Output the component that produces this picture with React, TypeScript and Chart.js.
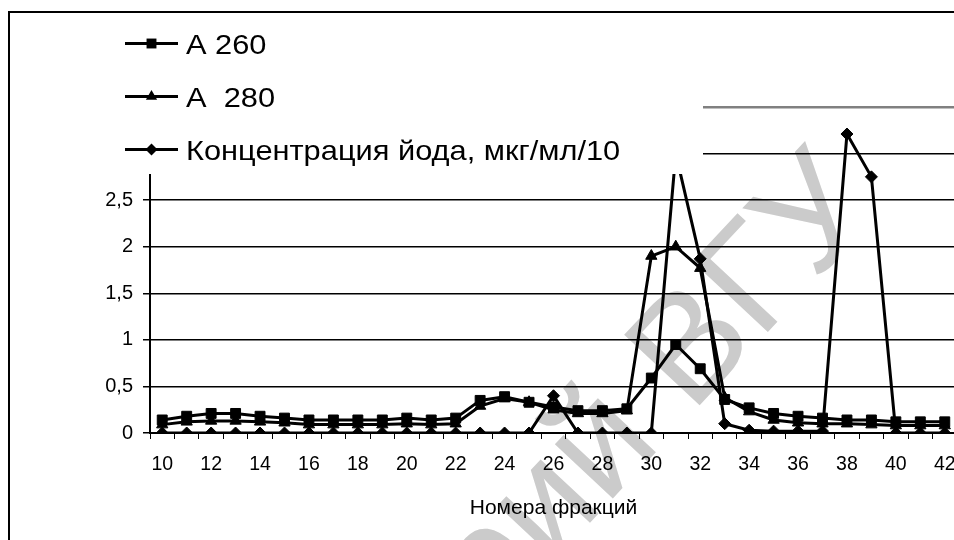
import React, { useEffect, useRef } from 'react';
import { Chart, registerables } from 'chart.js';

Chart.register(...registerables);

// ---- data ----
const fractions: string[] = [
  '10', '11', '12', '13', '14', '15', '16', '17', '18', '19', '20', '21', '22', '23', '24', '25', '26',
  '27', '28', '29', '30', '31', '32', '33', '34', '35', '36', '37', '38', '39', '40', '41', '42',
];

const a260: number[] = [
  0.14, 0.18, 0.21, 0.21, 0.18, 0.16, 0.14, 0.14, 0.14, 0.14, 0.16, 0.14, 0.16, 0.35, 0.39, 0.33, 0.28,
  0.24, 0.24, 0.26, 0.59, 0.95, 0.69, 0.36, 0.27, 0.21, 0.18, 0.16, 0.14, 0.14, 0.12, 0.12, 0.12,
];

const a280: number[] = [
  0.09, 0.12, 0.13, 0.13, 0.12, 0.11, 0.09, 0.09, 0.09, 0.09, 0.1, 0.09, 0.1, 0.29, 0.37, 0.33, 0.25,
  0.21, 0.21, 0.24, 1.9, 2.0, 1.77, 0.38, 0.23, 0.14, 0.11, 0.1, 0.1, 0.09, 0.08, 0.08, 0.08,
];

const iodine: number[] = [
  0, 0, 0, 0, 0, 0, 0, 0, 0, 0, 0, 0, 0, 0, 0, 0, 0.4,
  0, 0, 0, 0, 3.0, 1.87, 0.1, 0.03, 0.02, 0.02, 0.02, 3.21, 2.75, 0, 0, 0,
];

const seriesLabels: string[] = ['A 260', 'A  280', 'Концентрация йода, мкг/мл/10'];
const xTitle = 'Номера фракций';
const watermark = 'Репозиторий ВГУ';

const FONT = '"Liberation Sans", Arial, sans-serif';

function drawMarker(ctx: CanvasRenderingContext2D, style: string, x: number, y: number, r: number) {
  ctx.beginPath();
  if (style === 'rect') {
    const s = r * Math.SQRT1_2;
    ctx.rect(x - s, y - s, 2 * s, 2 * s);
  } else if (style === 'triangle') {
    ctx.moveTo(x, y - r);
    ctx.lineTo(x + 0.866 * r, y + 0.5 * r);
    ctx.lineTo(x - 0.866 * r, y + 0.5 * r);
    ctx.closePath();
  } else {
    ctx.moveTo(x - r, y);
    ctx.lineTo(x, y - r);
    ctx.lineTo(x + r, y);
    ctx.lineTo(x, y + r);
    ctx.closePath();
  }
  ctx.fill();
}

export default function App() {
  const ref = useRef<HTMLCanvasElement>(null);

  useEffect(() => {
    const canvas = ref.current;
    if (!canvas) return;

    const decor = {
      id: 'decor',
      beforeDraw(chart: any) {
        const ctx = chart.ctx as CanvasRenderingContext2D;
        ctx.save();
        ctx.fillStyle = '#ffffff';
        ctx.fillRect(0, 0, chart.width, chart.height);
        // repository watermark
        ctx.translate(880, 212);
        ctx.rotate(-0.82);
        ctx.font = `150px ${FONT}`;
        ctx.fillStyle = '#cbcbcb';
        ctx.textAlign = 'right';
        ctx.textBaseline = 'alphabetic';
        ctx.fillText(watermark, 0, 0);
        ctx.restore();
      },
      afterDraw(chart: any) {
        const ctx = chart.ctx as CanvasRenderingContext2D;
        ctx.save();
        // legend box
        ctx.fillStyle = '#ffffff';
        ctx.fillRect(10, 14, 693, 160);
        const rows = [43.5, 96.5, 149.5];
        chart.data.datasets.forEach((ds: any, i: number) => {
          const y = rows[i];
          ctx.strokeStyle = '#000';
          ctx.lineWidth = 3;
          ctx.beginPath();
          ctx.moveTo(125, y);
          ctx.lineTo(178, y);
          ctx.stroke();
          ctx.fillStyle = '#000';
          drawMarker(ctx, ds.pointStyle, 151.5, y, ds.pointRadius);
          ctx.save();
          ctx.translate(186, y + 10);
          ctx.scale(1.1, 1);
          ctx.font = `28px ${FONT}`;
          ctx.fillStyle = '#000';
          ctx.textAlign = 'left';
          ctx.textBaseline = 'alphabetic';
          ctx.fillText(ds.label, 0, 0);
          ctx.restore();
        });
        // outer frame (left and top edges)
        ctx.strokeStyle = '#000';
        ctx.lineWidth = 2;
        ctx.beginPath();
        ctx.moveTo(9, chart.height);
        ctx.lineTo(9, 12);
        ctx.lineTo(chart.width, 12);
        ctx.stroke();
        ctx.restore();
      },
    };

    const common = {
      borderColor: '#000',
      backgroundColor: '#000',
      borderWidth: 3,
      pointBackgroundColor: '#000',
      pointBorderColor: '#000',
      pointBorderWidth: 1,
      tension: 0,
    };

    const chart = new Chart(canvas, {
      type: 'line',
      data: {
        labels: fractions,
        datasets: [
          { ...common, label: seriesLabels[0], data: a260, pointStyle: 'rect', pointRadius: 7, order: 3 },
          { ...common, label: seriesLabels[1], data: a280, pointStyle: 'triangle', pointRadius: 6.5, order: 2 },
          { ...common, label: seriesLabels[2], data: iodine, pointStyle: 'rectRot', pointRadius: 6, order: 1 },
        ] as any,
      },
      options: {
        animation: false,
        responsive: false,
        devicePixelRatio: 1,
        layout: { padding: { top: 107, right: 23, left: 0, bottom: 0 } },
        plugins: {
          legend: { display: false },
          tooltip: { enabled: false },
          title: { display: false },
        },
        scales: {
          x: {
            type: 'category',
            offset: true,
            grid: {
              offset: true,
              drawOnChartArea: false,
              drawTicks: true,
              tickLength: 6,
              color: '#000',
              lineWidth: 1,
            },
            border: { display: true, color: '#000', width: 2 },
            ticks: {
              autoSkip: false,
              maxRotation: 0,
              minRotation: 0,
              color: '#000',
              padding: 14,
              font: { family: FONT, size: 19.5 },
              callback: (_v: any, i: number) => (i % 2 === 0 ? fractions[i] : ''),
            },
            title: {
              display: true,
              text: xTitle,
              color: '#000',
              font: { family: FONT, size: 21 },
              padding: { top: 0, bottom: 19 },
            },
            afterFit: (s: any) => {
              s.height = 107;
              s.paddingLeft = 0;
              s.paddingRight = 0;
            },
          },
          y: {
            min: 0,
            max: 3.5,
            ticks: {
              stepSize: 0.5,
              color: '#000',
              padding: 10,
              font: { family: FONT, size: 20 },
              callback: (v: any) => String(v).replace('.', ','),
            },
            grid: {
              color: (c: any) => (c.tick && c.tick.value === 3.5 ? '#808080' : '#000'),
              lineWidth: (c: any) => (c.tick && c.tick.value === 3.5 ? 2.5 : 1.5),
              tickLength: 7,
              drawTicks: true,
            },
            border: { display: true, color: '#000', width: 2 },
            afterFit: (s: any) => {
              s.width = 150;
              s.paddingTop = 0;
              s.paddingBottom = 0;
            },
          },
        },
      } as any,
      plugins: [decor],
    });

    return () => chart.destroy();
  }, []);

  return (
    <div
      style={{
        position: 'fixed',
        left: 0,
        top: 0,
        width: 954,
        height: 540,
        overflow: 'hidden',
        background: '#fff',
      }}
    >
      <canvas ref={ref} width={980} height={540} style={{ display: 'block', width: 980, height: 540 }} />
    </div>
  );
}
